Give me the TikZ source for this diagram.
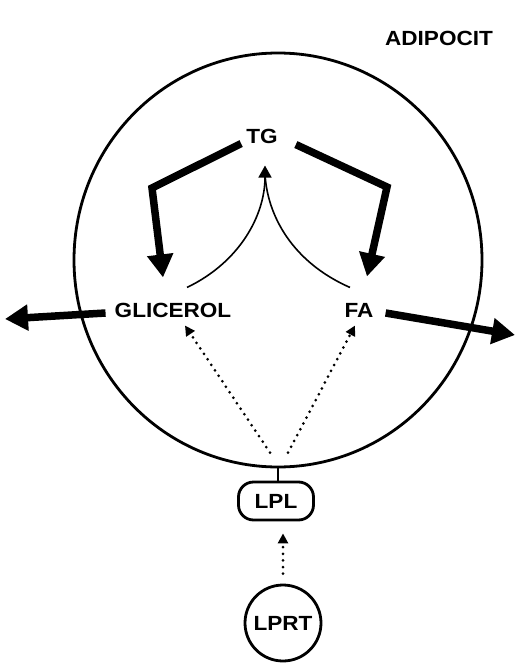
\documentclass[tikz,border=0pt]{standalone}
\usepackage{fontspec}
\newfontfamily\labfont{Liberation Sans}[FakeStretch=1.1]
\usetikzlibrary{arrows.meta,shapes.geometric}
\begin{document}
\begin{tikzpicture}[x=1pt,y=-1pt,
  lab/.style={font=\labfont\bfseries\fontsize{20.5}{24}\selectfont,
    inner sep=0pt,text height=14.7pt,text depth=0pt},
  fatarrow/.style={line width=7.5pt,miter limit=20,
    -{Triangle[length=23pt,width=25pt]}},
  thinarrow/.style={line width=1.6pt,-{Triangle[length=12pt,width=13pt]}},
  dotarrow/.style={line width=3pt,line cap=round,dash pattern=on 0pt off 6.6pt,
    -{Triangle[length=10pt,width=10pt]}},
  outline/.style={draw,line width=2.8pt}]
\useasboundingbox (0,0) rectangle (517,671);

% cell membrane
\node[outline,ellipse,minimum width=408pt,minimum height=414pt,inner sep=0pt]
  (cell) at (278,260) {};

% labels
\node[lab] (title) at (439,38) {ADIPOCIT};
\node[lab] (tg) at (262,136) {TG};
\node[lab] (gly) at (173,310) {GLICEROL};
\node[lab] (fa) at (359,310) {FA};

% enzyme on the membrane and its precursor
\node[lab,outline,rounded corners=15pt,minimum width=75pt,minimum height=38pt]
  (lpl) at (276,501) {LPL};
\node[lab,outline,circle,minimum size=76pt] (lprt) at (283,623) {LPRT};
\draw[line width=2pt] (cell.south) -- (cell.south |- lpl.north);

% lipolysis: TG splits into glycerol and fatty acids
\draw[fatarrow] ([shift={(-5,0)}]tg.south west) -- (152,188)
  -- ([shift={(-10,-25)}]gly.north);
\draw[fatarrow] ([shift={(18,1)}]tg.south east) -- (387,187)
  -- ([shift={(8,-26)}]fa.north);

% re-esterification back to TG
\draw[thinarrow] ([shift={(14,-15)}]gly.north)
  .. controls (240,262) and (265,215) .. ([shift={(3,22)}]tg.south);
\draw[line width=1.6pt] ([shift={(-9,-15)}]fa.north)
  .. controls (292,262) and (267,215) .. ([shift={(3,30)}]tg.south);

% release from the cell
\coordinate (outL) at (5,319);
\coordinate (outR) at (515,335);
\draw[fatarrow] ([shift={(-9,3)}]gly.west) -- (outL);
\draw[fatarrow] ([shift={(12,3)}]fa.east) -- (outR);

% LPL products entering the cell
\draw[dotarrow] ([shift={(-6,-28)}]lpl.north) -- ([shift={(12,8)}]gly.south);
\draw[dotarrow] ([shift={(12,-28)}]lpl.north) -- ([shift={(-4,8)}]fa.south);

% activation of LPRT into LPL
\draw[dotarrow] ([yshift=10pt]lprt.north) -- ([yshift=-12pt]lprt.north |- lpl.south);
\end{tikzpicture}
\end{document}
